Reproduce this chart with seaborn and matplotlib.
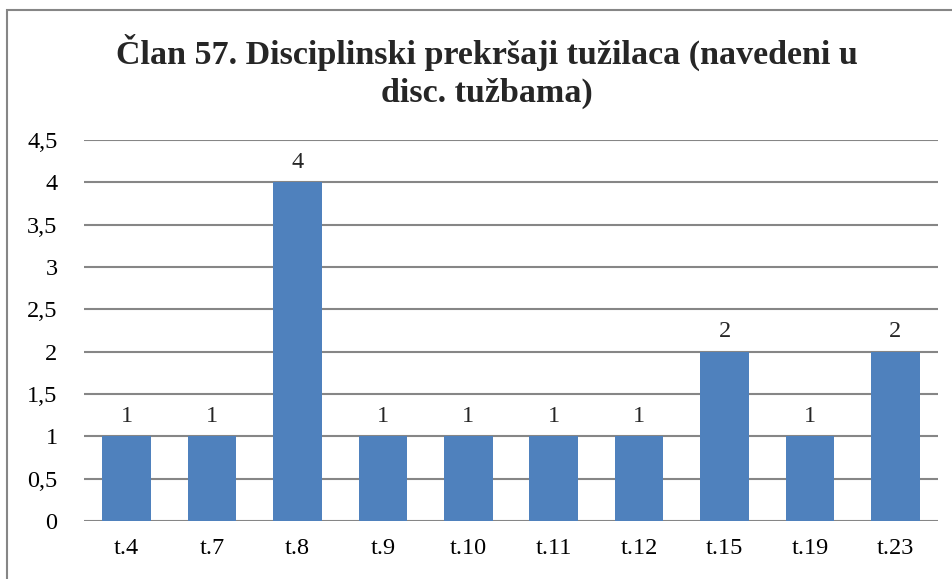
import matplotlib
matplotlib.use("Agg")
import matplotlib.pyplot as plt
import pandas as pd
import seaborn as sns
from matplotlib.patches import Rectangle

kategorije = ["t.4", "t.7", "t.8", "t.9", "t.10", "t.11", "t.12", "t.15", "t.19", "t.23"]
vrijednosti = [1, 1, 4, 1, 1, 1, 1, 2, 1, 2]
y_ticks = [0, 0.5, 1, 1.5, 2, 2.5, 3, 3.5, 4, 4.5]
naslov = "Član 57. Disciplinski prekršaji tužilaca (navedeni u\ndisc. tužbama)"

sns.set_style("white")
plt.rcParams["font.family"] = ["Liberation Serif", "DejaVu Serif"]

df = pd.DataFrame({"clan": kategorije, "broj": vrijednosti})

fig = plt.figure(figsize=(9.53, 5.79), dpi=100)
ax = fig.add_axes([0.0881, 0.1002, 0.8962, 0.658])

sns.barplot(data=df, x="clan", y="broj", color="#4F81BD", saturation=1,
            width=0.57, linewidth=0, ax=ax, zorder=3)

ax.set_ylim(0, 4.5)
ax.set_xlim(-0.5, len(kategorije) - 0.5)
ax.set_yticks(y_ticks)
ax.set_yticklabels([f"{v:g}".replace(".", ",") for v in y_ticks])
ax.yaxis.grid(True, color="#868686", linewidth=1.5, zorder=0)
ax.set_axisbelow(True)
for s in ax.spines.values():
    s.set_visible(False)
ax.tick_params(axis="both", length=0, labelsize=17.5, colors="black")
ax.tick_params(axis="x", pad=12)
ax.tick_params(axis="y", pad=19)
ax.set_xlabel("")
ax.set_ylabel("")

for cont in ax.containers:
    ax.bar_label(cont, labels=[str(v) for v in vrijednosti], padding=7, fontsize=17.5)

fig.text(0.511, 0.8765, naslov, ha="center", va="center", fontsize=24.5,
         fontweight="bold", linespacing=1.3)

fig.patches.append(Rectangle((7 / 953, -0.1), 1.2, 1 - 10 / 579 + 0.1,
                             transform=fig.transFigure, fill=False,
                             edgecolor="#868686", linewidth=1.5))

fig.savefig("out.png", dpi=100)
